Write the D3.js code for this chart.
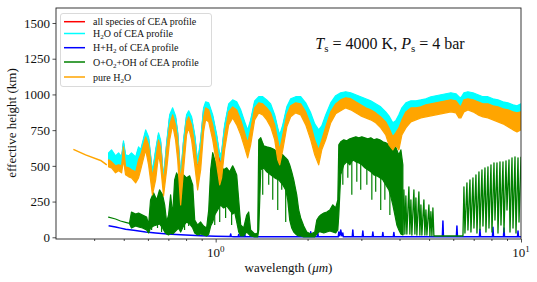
<!DOCTYPE html>
<html lang="en">
<head>
    <meta charset="UTF-8">
    <title>effective height</title>
    <style>
        body { margin: 0; background: #fff; }
        text { font-family: "Liberation Serif", "Times New Roman", serif; fill: #111; }
    </style>
</head>
<body>
    <svg id="chart" width="537" height="282"></svg>
    <script src="https://cdn.jsdelivr.net/npm/d3@7"></script>
    <script>
        // wavelength grid (um) shared by the H2O / all-species bands
        var wl = [0.446,0.456,0.470,0.481,0.492,0.499,0.507,0.519,0.530,0.547,
            0.559,0.568,0.590,0.603,0.621,0.636,0.650,0.660,0.675,0.691,
            0.707,0.723,0.739,0.751,0.768,0.785,0.803,0.816,0.834,0.854,
            0.873,0.893,0.913,0.927,0.949,0.978,1.008,1.031,1.046,1.070,
            1.103,1.137,1.172,1.208,1.245,1.273,1.302,1.342,1.384,1.426,
            1.470,1.514,1.561,1.597,1.621,1.659,1.710,1.761,1.829,1.899,
            1.972,2.048,2.111,2.175,2.226,2.293,2.381,2.472,2.567,2.666,
            2.769,2.875,2.986,3.100,3.219,3.343,3.472,3.605,3.693,3.804,
            3.888,3.981,4.073,4.198,4.359,4.527,4.701,4.881,5.069,5.264,
            5.466,5.676,5.894,6.121,6.263,6.356,6.503,6.701,6.960,7.228,
            7.506,7.794,8.092,8.403,8.726,9.062,9.414,9.703,10.0];

        // all species of CEA profile (upper / lower edge of the noisy band, km)
        var allHi = [577,598,556,577,549,661,563,556,577,549,
            619,598,738,689,444,598,717,668,402,647,
            843,892,836,724,416,668,843,871,829,703,
            514,668,892,934,927,843,703,563,584,773,
            920,948,934,878,794,738,808,941,970,970,
            948,920,843,752,703,773,899,955,970,970,
            927,857,780,738,766,843,927,977,998,1005,
            998,984,970,955,941,920,899,864,836,787,
            801,843,892,927,941,941,948,955,970,977,
            984,991,998,991,970,962,998,1005,998,984,
            970,970,955,948,934,927,913,906,920];
        var allLo = [528,514,486,493,486,619,479,472,458,444,
            528,563,689,633,409,528,668,612,367,598,
            773,843,773,668,374,598,794,829,773,633,
            458,598,822,892,878,773,633,493,528,703,
            864,899,878,808,717,647,738,892,927,920,
            892,857,773,668,598,703,843,906,927,920,
            864,773,668,598,668,759,864,920,948,962,
            955,934,913,892,878,857,829,794,752,689,
            717,752,808,864,892,892,899,913,920,927,
            934,941,948,941,913,899,948,955,948,934,
            920,920,906,899,885,878,864,857,864];

        // H2O of CEA profile
        var h2oHi = [591,612,570,591,563,675,577,570,591,563,
            633,612,752,703,458,612,731,682,416,661,
            857,906,850,738,430,682,857,885,843,717,
            528,682,906,948,941,857,717,577,598,787,
            934,962,948,892,808,752,822,955,984,984,
            962,934,857,766,717,787,913,970,984,984,
            941,871,794,752,780,857,941,991,1012,1019,
            1012,998,984,970,955,934,913,878,850,801,
            815,857,906,941,955,955,962,970,984,991,
            998,1005,1012,1005,984,977,1012,1019,1012,998,
            984,984,970,962,948,941,927,920,934];
        var h2oLo = [521,507,479,486,479,612,472,465,451,437,
            521,556,682,626,444,521,661,605,402,591,
            766,836,766,661,416,591,787,822,766,626,
            514,591,815,885,871,766,626,563,521,696,
            857,892,871,801,710,640,731,885,920,913,
            885,850,766,661,591,696,836,899,920,913,
            857,766,661,591,661,752,857,913,941,955,
            948,927,906,885,871,850,822,787,745,682,
            710,745,801,857,885,885,892,906,913,920,
            927,934,941,934,906,892,941,948,941,927,
            913,913,899,892,878,871,857,850,857];

        // pure H2O
        var pureWl = [0.342,0.375,0.420,0.440];
        var pureStart = [615,577,538,507];
        var pureHi = [542,528,500,507,500,633,493,486,472,458,
            542,577,703,647,423,542,682,626,381,612,
            787,857,787,682,388,612,808,843,787,647,
            472,612,836,906,892,787,647,507,542,717,
            878,913,892,822,731,661,752,906,941,934,
            906,871,787,682,612,717,857,920,941,934,
            878,787,682,612,682,773,878,934,962,976,
            970,948,927,906,892,871,843,808,766,703,
            731,766,822,878,906,906,913,927,934,941,
            948,955,962,955,927,913,962,970,962,948,
            934,934,920,913,899,892,878,871,878];
        var pureLo = [493,486,451,465,451,542,437,423,416,381,
            416,472,612,507,297,402,577,507,290,472,
            682,787,682,542,226,472,717,766,682,507,
            332,472,738,822,808,682,507,367,416,612,
            787,836,787,717,626,556,647,822,871,857,
            822,773,682,542,507,612,773,843,871,857,
            787,682,577,507,612,682,801,864,885,906,
            892,871,850,836,822,801,766,717,647,612,
            647,612,717,766,808,822,836,843,850,857,
            864,871,878,871,836,836,878,892,878,857,
            843,836,822,808,794,773,752,738,752];

        // O+O2+OH of CEA profile: dense band up to ~4.1 um ...
        var oxWl = [0.446,0.470,0.488,0.507,0.522,0.530,0.547,0.559,0.576,0.594,
            0.603,0.612,0.626,0.641,0.655,0.670,0.681,0.691,0.701,0.712,
            0.723,0.734,0.745,0.756,0.768,0.785,0.803,0.822,0.841,0.854,
            0.873,0.893,0.913,0.934,0.949,0.963,0.978,0.993,1.015,1.038,
            1.062,1.087,1.111,1.137,1.154,1.172,1.190,1.208,1.235,1.264,
            1.283,1.302,1.342,1.373,1.384,1.405,1.437,1.470,1.514,1.561,
            1.609,1.659,1.696,1.722,1.748,1.775,1.802,1.843,1.871,1.899,
            1.943,1.988,2.048,2.111,2.144,2.175,2.208,2.260,2.312,2.365,
            2.419,2.472,2.512,2.531,2.568,2.628,2.688,2.750,2.813,2.878,
            2.943,3.011,3.080,3.150,3.222,3.296,3.372,3.449,3.528,3.609,
            3.692,3.748,3.804,3.863,3.921,3.981,4.042,4.103];
        var oxHi = [141,128,114,104,97,177,163,170,156,142,
            86,261,311,261,332,297,226,107,156,297,
            156,402,451,416,402,437,416,430,367,121,
            86,107,79,65,191,472,592,542,486,507,
            472,486,458,500,472,437,261,86,65,156,
            177,51,23,30,682,697,640,633,626,612,
            591,577,556,542,507,458,402,297,191,135,
            79,37,23,37,121,142,156,170,177,191,
            227,205,262,647,668,682,675,689,696,703,
            696,703,696,689,696,682,689,682,668,661,
            647,640,612,647,612,577,612,507];
        var oxLo = [141,128,114,104,97,65,79,72,65,51,
            30,65,79,86,93,65,37,23,16,30,
            23,37,51,65,37,79,107,93,65,30,
            16,23,16,9,23,79,107,156,191,226,
            205,219,191,163,177,107,37,9,9,37,
            23,9,2,2,51,472,486,458,437,416,
            402,367,332,262,121,65,37,16,9,9,
            2,2,2,2,23,37,37,30,37,44,
            37,30,51,156,437,507,528,507,542,528,
            521,507,486,472,458,437,430,416,402,367,
            332,283,227,156,86,51,23,16];
        // single lines reaching below the dense band (top / bottom, km)
        var oxDropWl = [0.617,0.645,0.665,0.751,0.791,0.816,0.993,1.031,1.078,1.128,
            1.426,1.492,1.538,1.597,1.646,1.696,2.609,2.709,2.792,2.899,
            2.986,3.127,3.247,3.343,3.472,3.582,3.720];
        var oxDropTop = [280,280,310,440,430,420,540,490,480,480,
            660,630,620,600,580,556,670,680,690,700,
            700,690,690,685,680,665,645];
        var oxDropBottom = [51,65,37,79,51,79,86,107,135,86,
            297,367,262,191,332,107,367,416,297,388,
            332,367,262,318,191,262,156];
        // ... then separate spikes out to 10 um
        var oxSpikeWl = [4.103,4.135,4.166,4.197,4.229,4.294,4.326,4.359,4.392,4.459,
            4.493,4.527,4.561,4.630,4.665,4.701,4.736,4.808,4.845,4.882,
            4.919,4.993,5.031,5.069,5.108,5.146,5.185,6.455,6.503,6.553,
            6.652,6.703,6.805,6.856,6.961,7.013,7.120,7.174,7.283,7.338,
            7.450,7.506,7.621,7.678,7.795,7.854,7.974,8.034,8.157,8.218,
            8.343,8.407,8.534,8.599,8.730,8.796,8.930,8.998,9.135,9.204,
            9.344,9.415,9.558,9.630,9.777,9.851,10.0];
        var oxSpike = [16,332,23,290,23,353,23,262,16,332,
            23,276,16,318,16,226,16,262,16,191,
            16,226,9,179,9,205,9,9,353,30,
            381,51,402,37,416,65,437,30,458,51,
            472,79,486,37,493,65,507,37,521,121,
            521,30,528,86,528,37,535,191,542,37,
            556,65,563,30,556,107,563];

        // H+H2 of CEA profile
        var hWl = [0.446,0.470,0.488,0.507,0.539,0.590,0.636,0.696,0.768,0.893,
            1.0,1.115,1.120,1.125,1.146,1.185,1.190,1.195,1.240,1.245,
            1.250,1.302,1.935,1.943,1.951,2.040,2.048,2.056,2.151,2.160,
            2.169,2.521,2.531,2.550,2.568,2.590,2.609,2.619,2.802,2.813,
            2.824,3.021,3.034,3.046,3.258,3.272,3.285,3.514,3.528,3.542,
            3.818,3.834,3.849,5.527,5.550,5.572,6.143,6.168,6.193,7.308,
            7.338,7.368,8.062,8.095,8.127,8.761,8.796,8.831,9.738,9.777,
            9.816,10.0];
        var hVal = [81,72,64,56,49,37,30,23,18,11,
            8,5,23,5,4,4,20,4,3,23,
            3,3,3,56,3,3,39,3,3,32,
            3,3,37,10,51,10,30,3,3,51,
            3,3,44,3,3,37,3,3,34,3,
            3,34,3,3,114,3,3,79,3,3,
            56,3,3,70,3,3,65,3,3,44,
            3,3];

        var yTicks = [0, 250, 500, 750, 1000, 1250, 1500];
        var xMinor = [0.4,0.5,0.6,0.7,0.8,0.9,2,3,4,5,6,7,8,9];

        var width = 537, height = 282;
        var margin = {top: 8, right: 16, bottom: 43, left: 56};
        var serif = '"Liberation Serif", "Times New Roman", serif';

        var x = d3.scaleLog().domain([0.3, 10]).range([margin.left, width - margin.right]);
        var y = d3.scaleLinear().domain([-12, 1605]).range([height - margin.bottom, margin.top]);

        var svg = d3.select("#chart");

        svg.append("defs").append("clipPath").attr("id", "plot")
            .append("rect")
            .attr("x", margin.left).attr("y", margin.top)
            .attr("width", width - margin.left - margin.right)
            .attr("height", height - margin.top - margin.bottom);

        var g = svg.append("g").attr("clip-path", "url(#plot)");

        function band(lam, lo, hi, color) {
            var area = d3.area()
                .x((d, i) => x(lam[i]))
                .y0((d, i) => y(lo[i]))
                .y1((d, i) => y(hi[i]));
            g.append("path")
                .datum(lam)
                .attr("d", area)
                .attr("fill", color)
                .attr("stroke", color)
                .attr("stroke-width", 1.2)
                .attr("stroke-linejoin", "round");
        }

        function curve(lam, vals, color, w) {
            var line = d3.line()
                .x((d, i) => x(lam[i]))
                .y((d, i) => y(vals[i]));
            g.append("path")
                .datum(lam)
                .attr("d", line)
                .attr("fill", "none")
                .attr("stroke", color)
                .attr("stroke-width", w)
                .attr("stroke-linejoin", "round");
        }

        band(wl, allLo, allHi, "red");
        band(wl, h2oLo, h2oHi, "cyan");
        curve(hWl, hVal, "blue", 1.5);
        band(oxWl, oxLo, oxHi, "green");
        g.append("g").selectAll("line")
            .data(oxDropWl)
            .join("line")
            .attr("x1", d => x(d)).attr("x2", d => x(d))
            .attr("y1", (d, i) => y(oxDropTop[i]))
            .attr("y2", (d, i) => y(oxDropBottom[i]))
            .attr("stroke", "green")
            .attr("stroke-width", 1.2);
        curve(oxSpikeWl, oxSpike, "green", 1.3);
        curve(pureWl, pureStart, "orange", 1.5);
        band(wl, pureLo, pureHi, "orange");

        // axes
        var y0 = height - margin.bottom;
        svg.append("g")
            .attr("transform", `translate(0,${y0})`)
            .call(d3.axisBottom(x).tickValues([1, 10]).tickSize(3.5).tickFormat(""))
            .call(a => a.select(".domain").remove());
        svg.append("g")
            .attr("transform", `translate(0,${y0})`)
            .call(d3.axisBottom(x).tickValues(xMinor).tickSize(2).tickFormat(""))
            .call(a => a.select(".domain").remove());

        [1, 10].forEach(function (v, i) {
            var t = svg.append("text")
                .attr("x", x(v))
                .attr("y", y0 + 18)
                .attr("text-anchor", "middle")
                .attr("font-size", 13);
            t.append("tspan").text("10");
            t.append("tspan").text(String(i)).attr("font-size", 9).attr("dy", -5);
        });

        svg.append("g")
            .attr("transform", `translate(${margin.left},0)`)
            .attr("font-family", serif)
            .call(d3.axisLeft(y).tickValues(yTicks).tickFormat(d3.format("d")).tickSize(3.5).tickPadding(2.5))
            .call(a => a.select(".domain").remove())
            .call(a => a.selectAll("text")
                .attr("font-size", 13)
                .attr("fill", "#111")
                .style("font-family", serif));

        svg.selectAll(".tick line").attr("stroke", "#222").attr("stroke-width", 0.8);

        svg.append("rect")
            .attr("x", margin.left).attr("y", margin.top)
            .attr("width", width - margin.left - margin.right)
            .attr("height", height - margin.top - margin.bottom)
            .attr("fill", "none")
            .attr("stroke", "#222")
            .attr("stroke-width", 0.9);

        // axis titles
        var xl = svg.append("text")
            .attr("x", (margin.left + width - margin.right) / 2)
            .attr("y", 272)
            .attr("text-anchor", "middle")
            .attr("font-size", 13);
        xl.append("tspan").text("wavelength (");
        xl.append("tspan").text("\u03bcm").attr("font-style", "italic");
        xl.append("tspan").text(")");

        svg.append("text")
            .attr("transform", "translate(16,123) rotate(-90)")
            .attr("text-anchor", "middle")
            .attr("font-size", 13)
            .text("effective height (km)");

        // surface conditions
        var ann = svg.append("text")
            .attr("x", 390)
            .attr("y", 49)
            .attr("text-anchor", "middle")
            .attr("font-size", 16);
        ann.append("tspan").text("T").attr("font-style", "italic");
        ann.append("tspan").text("s").attr("font-size", 11).attr("dy", 3);
        ann.append("tspan").text(" = 4000 K, ").attr("dy", -3);
        ann.append("tspan").text("P").attr("font-style", "italic");
        ann.append("tspan").text("s").attr("font-size", 11).attr("dy", 3);
        ann.append("tspan").text(" = 4 bar").attr("dy", -3);

        // legend
        var legendItems = [
            {color: "red", parts: [["all species of CEA profile"]]},
            {color: "cyan", parts: [["H"], ["2", true], ["O of CEA profile"]]},
            {color: "blue", parts: [["H+H"], ["2", true], [" of CEA profile"]]},
            {color: "green", parts: [["O+O"], ["2", true], ["+OH of CEA profile"]]},
            {color: "orange", parts: [["pure H"], ["2", true], ["O"]]}
        ];
        var legendY = [21.7, 33.5, 47.7, 62, 77];

        var lg = svg.append("g");
        lg.append("rect")
            .attr("x", 60.5).attr("y", 13.5)
            .attr("width", 151).attr("height", 73)
            .attr("rx", 2.5)
            .attr("fill", "#fff")
            .attr("fill-opacity", 0.8)
            .attr("stroke", "#d0d0d0")
            .attr("stroke-width", 0.8);

        legendItems.forEach(function (d, i) {
            var ly = legendY[i];
            lg.append("line")
                .attr("x1", 64).attr("x2", 85)
                .attr("y1", ly).attr("y2", ly)
                .attr("stroke", d.color)
                .attr("stroke-width", 1.5);
            var t = lg.append("text")
                .attr("x", 93)
                .attr("y", ly + 3.5)
                .attr("font-size", 10);
            var shifted = false;
            d.parts.forEach(function (p) {
                var s = t.append("tspan").text(p[0]);
                if (p[1]) { s.attr("font-size", 7).attr("dy", 2); shifted = true; }
                else if (shifted) { s.attr("dy", -2); shifted = false; }
            });
        });
    </script>
</body>
</html>
